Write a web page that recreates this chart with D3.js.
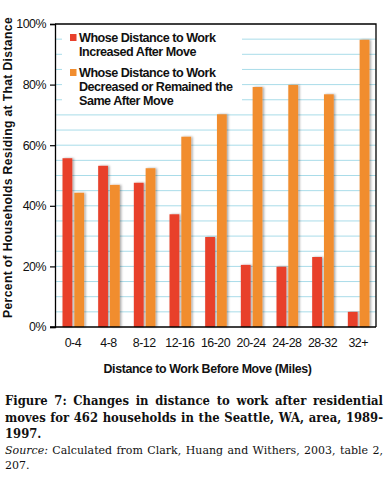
<!DOCTYPE html>
<html><head><meta charset="utf-8">
<script src="https://cdn.jsdelivr.net/npm/d3@7"></script>
<style>body{margin:0;background:#fff}svg{display:block}</style>
</head><body>
<script>
const categories = ["0-4","4-8","8-12","12-16","16-20","20-24","24-28","28-32","32+"];
const increased = [55.7,53.2,47.6,37.2,29.7,20.5,19.9,23.1,5.0];
const decreased = [44.3,46.9,52.4,62.8,70.2,79.2,79.9,76.8,94.8];
const yTicks = [0,20,40,60,80,100];
const gridTicks = d3.range(5,100,5);
const legendLines = [["Whose Distance to Work","Increased After Move"],["Whose Distance to Work","Decreased or Remained the","Same After Move"]];
const captionLines = ["Figure 7: Changes in distance to work after residential","moves for 462 households in the Seattle, WA, area, 1989-","1997."];
const sourceLines = [["Source:"," Calculated from Clark, Huang and Withers, 2003, table 2,"],["","207."]];

const W=388,H=481;
const RED="#e8402b", ORANGE="#f18d2f", GRID="#a9dce9";
const svg=d3.select("body").append("svg").attr("width",W).attr("height",H);
const defs=svg.append("defs");
const f=defs.append("filter").attr("id","sh").attr("x","-50%").attr("y","-5%").attr("width","200%").attr("height","110%");
f.append("feDropShadow").attr("dx",1.5).attr("dy",0).attr("stdDeviation",0.8).attr("flood-color","#000").attr("flood-opacity",0.35);

const L=55,R=376,T=24,B=327;
const x=d3.scaleBand().domain(categories).range([L,R]);
const y=d3.scaleLinear().domain([0,100]).range([B,T]);
const sans="'Liberation Sans',Arial,sans-serif";

function fit(t,target){
  const w=t.node().getComputedTextLength();
  const n=t.text().length;
  t.attr("letter-spacing",(target-w)/n);
}

svg.append("g").selectAll("line").data(gridTicks).join("line")
 .attr("x1",L).attr("x2",R).attr("y1",d=>y(d)).attr("y2",d=>y(d))
 .attr("stroke",GRID).attr("stroke-width",1);

const lg=svg.append("g");
lg.append("rect").attr("x",62).attr("y",27).attr("width",180).attr("height",84).attr("fill","#fff");

const bw=9.8;
const g=svg.append("g");
g.selectAll(".r").data(categories).join("rect").attr("class","r")
 .attr("x",d=>x(d)+7.5).attr("width",bw)
 .attr("y",(d,i)=>y(increased[i])).attr("height",(d,i)=>y(0)-y(increased[i]))
 .attr("fill",RED).attr("filter","url(#sh)");
g.selectAll(".o").data(categories).join("rect").attr("class","o")
 .attr("x",d=>x(d)+19.3).attr("width",bw)
 .attr("y",(d,i)=>y(decreased[i])).attr("height",(d,i)=>y(0)-y(decreased[i]))
 .attr("fill",ORANGE).attr("filter","url(#sh)");

svg.append("path").attr("d",`M${L},${T}H${R}V${B}`).attr("fill","none").attr("stroke","#000").attr("stroke-width",1.3);

const yAxis=d3.axisLeft(y).tickValues(yTicks).tickFormat(d=>d+"%").tickSize(5).tickPadding(4);
const ya=svg.append("g").attr("transform",`translate(${L},0)`).call(yAxis);
ya.select(".domain").attr("stroke","#000").attr("stroke-width",1.3);
ya.selectAll("text").attr("font-family",sans).attr("font-size","12.4px").attr("letter-spacing","-0.5px").attr("fill","#111");
ya.selectAll(".tick line").attr("stroke","#000").attr("stroke-width",1.2);

const xAxis=d3.axisBottom(x).tickSize(0).tickPadding(11);
const xa=svg.append("g").attr("transform",`translate(0,${B})`).call(xAxis);
xa.select(".domain").attr("d",`M${L-5},0H${R}`).attr("stroke","#000").attr("stroke-width",1.3);
xa.selectAll("text").attr("font-family",sans).attr("font-size","12.4px").attr("letter-spacing","-0.5px").attr("fill","#111");

const colors=[RED,ORANGE];
const legY=[42,77];
legendLines.forEach((lines,i)=>{
  lg.append("rect").attr("x",70).attr("y",legY[i]-8).attr("width",6.5).attr("height",7).attr("fill",colors[i]);
  const t=lg.append("text").attr("font-family",sans).attr("font-weight","bold").attr("font-size","12.6px").attr("letter-spacing","-0.5px").attr("fill","#111");
  lines.forEach((s,j)=>t.append("tspan").attr("x",79).attr("y",legY[i]+j*14).text(s));
});

const yt=svg.append("text").attr("transform","translate(11.5,167.5) rotate(-90)").attr("text-anchor","middle")
 .attr("font-family",sans).attr("font-weight","bold").attr("font-size","12.2px").attr("fill","#111")
 .text("Percent of Households Residing at That Distance");
fit(yt,301);
const xt=svg.append("text").attr("x",207.5).attr("y",373).attr("text-anchor","middle")
 .attr("font-family",sans).attr("font-weight","bold").attr("font-size","12.4px").attr("fill","#111")
 .text("Distance to Work Before Move (Miles)");
fit(xt,208);

const serif="'DejaVu Serif',serif";
const cx0=5,cx1=383;
captionLines.forEach((s,i)=>{
  const t=svg.append("text").attr("x",cx0).attr("y",405+i*16.7)
   .attr("font-family",serif).attr("font-weight","bold").attr("font-size","12.9px").attr("fill","#111")
   .attr("font-stretch","condensed").text(s);
  if(i<captionLines.length-1){
    const w=t.node().getComputedTextLength();
    const n=(s.match(/ /g)||[]).length;
    t.attr("word-spacing",(cx1-cx0-w)/n);
  }
});
sourceLines.forEach((parts,i)=>{
  const t=svg.append("text").attr("x",cx0).attr("y",454+i*14.5)
   .attr("font-family",serif).attr("font-size","11px").attr("fill","#111");
  if(parts[0]) t.append("tspan").attr("font-style","italic").text(parts[0]);
  t.append("tspan").text(parts[1]);
  if(i===0){
    const w=t.node().getComputedTextLength();
    const n=(parts.join("").match(/ /g)||[]).length;
    t.attr("word-spacing",(cx1-cx0-w)/n);
  }
});
</script>
</body></html>
